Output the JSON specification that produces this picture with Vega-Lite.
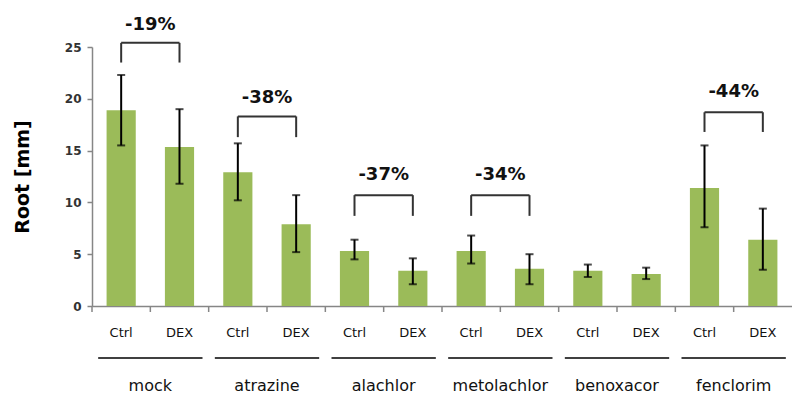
{
  "$schema": "https://vega.github.io/schema/vega-lite/v6.json",
  "width": 700,
  "height": 259,
  "autosize": {"type": "none"},
  "padding": {"left": 92, "top": 47, "right": 0, "bottom": 88},
  "background": "white",
  "config": {"view": {"stroke": null}, "font": "DejaVu Sans"},
  "datasets": {
    "bars": [
      {"group": "mock", "cond": "Ctrl", "id": "mock|Ctrl", "value": 18.9, "lo": 15.5, "hi": 22.3},
      {"group": "mock", "cond": "DEX", "id": "mock|DEX", "value": 15.35, "lo": 11.8, "hi": 19.0},
      {"group": "atrazine", "cond": "Ctrl", "id": "atrazine|Ctrl", "value": 12.9, "lo": 10.2, "hi": 15.7},
      {"group": "atrazine", "cond": "DEX", "id": "atrazine|DEX", "value": 7.9, "lo": 5.2, "hi": 10.7},
      {"group": "alachlor", "cond": "Ctrl", "id": "alachlor|Ctrl", "value": 5.3, "lo": 4.5, "hi": 6.4},
      {"group": "alachlor", "cond": "DEX", "id": "alachlor|DEX", "value": 3.4, "lo": 2.1, "hi": 4.6},
      {"group": "metolachlor", "cond": "Ctrl", "id": "metolachlor|Ctrl", "value": 5.3, "lo": 4.1, "hi": 6.8},
      {"group": "metolachlor", "cond": "DEX", "id": "metolachlor|DEX", "value": 3.6, "lo": 2.1, "hi": 5.0},
      {"group": "benoxacor", "cond": "Ctrl", "id": "benoxacor|Ctrl", "value": 3.4, "lo": 2.8, "hi": 4.0},
      {"group": "benoxacor", "cond": "DEX", "id": "benoxacor|DEX", "value": 3.1, "lo": 2.6, "hi": 3.7},
      {"group": "fenclorim", "cond": "Ctrl", "id": "fenclorim|Ctrl", "value": 11.4, "lo": 7.6, "hi": 15.5},
      {"group": "fenclorim", "cond": "DEX", "id": "fenclorim|DEX", "value": 6.4, "lo": 3.5, "hi": 9.4}
    ],
    "ann": [
      {"ctrl": "mock|Ctrl", "dex": "mock|DEX", "ybot": 23.5, "ytop": 25.4, "ylab": 27.1, "label": "-19%"},
      {"ctrl": "atrazine|Ctrl", "dex": "atrazine|DEX", "ybot": 16.3, "ytop": 18.3, "ylab": 20.1, "label": "-38%"},
      {"ctrl": "alachlor|Ctrl", "dex": "alachlor|DEX", "ybot": 8.7, "ytop": 10.7, "ylab": 12.6, "label": "-37%"},
      {"ctrl": "metolachlor|Ctrl", "dex": "metolachlor|DEX", "ybot": 8.7, "ytop": 10.7, "ylab": 12.6, "label": "-34%"},
      {"ctrl": "fenclorim|Ctrl", "dex": "fenclorim|DEX", "ybot": 16.8, "ytop": 18.7, "ylab": 20.7, "label": "-44%"}
    ],
    "groups": [
      {"group": "mock", "ctrl": "mock|Ctrl", "dex": "mock|DEX"},
      {"group": "atrazine", "ctrl": "atrazine|Ctrl", "dex": "atrazine|DEX"},
      {"group": "alachlor", "ctrl": "alachlor|Ctrl", "dex": "alachlor|DEX"},
      {"group": "metolachlor", "ctrl": "metolachlor|Ctrl", "dex": "metolachlor|DEX"},
      {"group": "benoxacor", "ctrl": "benoxacor|Ctrl", "dex": "benoxacor|DEX"},
      {"group": "fenclorim", "ctrl": "fenclorim|Ctrl", "dex": "fenclorim|DEX"}
    ]
  },
  "layer": [
    {
      "data": {"name": "bars"},
      "mark": {"type": "bar", "color": "#9BBB59"},
      "encoding": {
        "x": {
          "field": "id", "type": "nominal",
          "scale": {"domain": ["mock|Ctrl","mock|DEX","atrazine|Ctrl","atrazine|DEX","alachlor|Ctrl","alachlor|DEX","metolachlor|Ctrl","metolachlor|DEX","benoxacor|Ctrl","benoxacor|DEX","fenclorim|Ctrl","fenclorim|DEX"], "paddingInner": 0.5, "paddingOuter": 0.25},
          "axis": {
            "title": null, "labelAngle": 0, "labelExpr": "split(datum.value, '|')[1]",
            "ticks": false, "domainColor": "#868686", "domainWidth": 1.5,
            "labelFontSize": 13, "labelColor": "#111", "labelPadding": 20, "labelBaseline": "top"
          }
        },
        "y": {
          "field": "value", "type": "quantitative",
          "scale": {"domain": [0, 25], "nice": false},
          "axis": {
            "values": [0, 5, 10, 15, 20, 25], "grid": false, "title": "Root [mm]",
            "titleFontSize": 19, "titleFontWeight": "bold", "titleColor": "#000", "titlePadding": 32,
            "labelFontSize": 12, "labelFontWeight": "bold", "labelColor": "#333", "labelPadding": 6,
            "tickSize": 5, "tickWidth": 1.5, "tickColor": "#868686", "domainColor": "#868686", "domainWidth": 1.5
          }
        }
      }
    },
    {
      "data": {"name": "bars"},
      "mark": {"type": "rule", "color": "#868686", "strokeWidth": 1.5, "y2Offset": 6},
      "encoding": {
        "x": {"field": "id", "type": "nominal", "bandPosition": -0.5, "scale": {"domain": ["mock|Ctrl","mock|DEX","atrazine|Ctrl","atrazine|DEX","alachlor|Ctrl","alachlor|DEX","metolachlor|Ctrl","metolachlor|DEX","benoxacor|Ctrl","benoxacor|DEX","fenclorim|Ctrl","fenclorim|DEX"], "paddingInner": 0.5, "paddingOuter": 0.25}},
        "y": {"datum": 0, "type": "quantitative"},
        "y2": {"datum": 0}
      }
    },
    {
      "data": {"name": "bars"},
      "mark": {"type": "rule", "color": "#000", "strokeWidth": 2},
      "encoding": {
        "x": {"field": "id", "type": "nominal", "scale": {"domain": ["mock|Ctrl","mock|DEX","atrazine|Ctrl","atrazine|DEX","alachlor|Ctrl","alachlor|DEX","metolachlor|Ctrl","metolachlor|DEX","benoxacor|Ctrl","benoxacor|DEX","fenclorim|Ctrl","fenclorim|DEX"], "paddingInner": 0.5, "paddingOuter": 0.25}},
        "y": {"field": "lo", "type": "quantitative"},
        "y2": {"field": "hi"}
      }
    },
    {
      "data": {"name": "bars"},
      "mark": {"type": "tick", "color": "#000", "size": 8, "thickness": 2, "orient": "horizontal"},
      "encoding": {
        "x": {"field": "id", "type": "nominal", "scale": {"domain": ["mock|Ctrl","mock|DEX","atrazine|Ctrl","atrazine|DEX","alachlor|Ctrl","alachlor|DEX","metolachlor|Ctrl","metolachlor|DEX","benoxacor|Ctrl","benoxacor|DEX","fenclorim|Ctrl","fenclorim|DEX"], "paddingInner": 0.5, "paddingOuter": 0.25}},
        "y": {"field": "hi", "type": "quantitative"}
      }
    },
    {
      "data": {"name": "bars"},
      "mark": {"type": "tick", "color": "#000", "size": 8, "thickness": 2, "orient": "horizontal"},
      "encoding": {
        "x": {"field": "id", "type": "nominal", "scale": {"domain": ["mock|Ctrl","mock|DEX","atrazine|Ctrl","atrazine|DEX","alachlor|Ctrl","alachlor|DEX","metolachlor|Ctrl","metolachlor|DEX","benoxacor|Ctrl","benoxacor|DEX","fenclorim|Ctrl","fenclorim|DEX"], "paddingInner": 0.5, "paddingOuter": 0.25}},
        "y": {"field": "lo", "type": "quantitative"}
      }
    },
    {
      "data": {"name": "ann"},
      "mark": {"type": "rule", "color": "#333", "strokeWidth": 2},
      "encoding": {
        "x": {"field": "ctrl", "type": "nominal", "scale": {"domain": ["mock|Ctrl","mock|DEX","atrazine|Ctrl","atrazine|DEX","alachlor|Ctrl","alachlor|DEX","metolachlor|Ctrl","metolachlor|DEX","benoxacor|Ctrl","benoxacor|DEX","fenclorim|Ctrl","fenclorim|DEX"], "paddingInner": 0.5, "paddingOuter": 0.25}},
        "y": {"field": "ybot", "type": "quantitative"},
        "y2": {"field": "ytop"}
      }
    },
    {
      "data": {"name": "ann"},
      "mark": {"type": "rule", "color": "#333", "strokeWidth": 2},
      "encoding": {
        "x": {"field": "dex", "type": "nominal", "scale": {"domain": ["mock|Ctrl","mock|DEX","atrazine|Ctrl","atrazine|DEX","alachlor|Ctrl","alachlor|DEX","metolachlor|Ctrl","metolachlor|DEX","benoxacor|Ctrl","benoxacor|DEX","fenclorim|Ctrl","fenclorim|DEX"], "paddingInner": 0.5, "paddingOuter": 0.25}},
        "y": {"field": "ybot", "type": "quantitative"},
        "y2": {"field": "ytop"}
      }
    },
    {
      "data": {"name": "ann"},
      "mark": {"type": "rule", "color": "#333", "strokeWidth": 2},
      "encoding": {
        "x": {"field": "ctrl", "type": "nominal", "scale": {"domain": ["mock|Ctrl","mock|DEX","atrazine|Ctrl","atrazine|DEX","alachlor|Ctrl","alachlor|DEX","metolachlor|Ctrl","metolachlor|DEX","benoxacor|Ctrl","benoxacor|DEX","fenclorim|Ctrl","fenclorim|DEX"], "paddingInner": 0.5, "paddingOuter": 0.25}},
        "x2": {"field": "dex"},
        "y": {"field": "ytop", "type": "quantitative"}
      }
    },
    {
      "data": {"name": "ann"},
      "mark": {"type": "text", "color": "#111", "fontSize": 18, "fontWeight": "bold", "baseline": "middle", "align": "center"},
      "encoding": {
        "x": {"field": "ctrl", "type": "nominal", "bandPosition": 1.5, "scale": {"domain": ["mock|Ctrl","mock|DEX","atrazine|Ctrl","atrazine|DEX","alachlor|Ctrl","alachlor|DEX","metolachlor|Ctrl","metolachlor|DEX","benoxacor|Ctrl","benoxacor|DEX","fenclorim|Ctrl","fenclorim|DEX"], "paddingInner": 0.5, "paddingOuter": 0.25}},
        "y": {"field": "ylab", "type": "quantitative"},
        "text": {"field": "label"}
      }
    },
    {
      "data": {"name": "groups"},
      "mark": {"type": "rule", "color": "#000", "strokeWidth": 1.5, "xOffset": -23, "x2Offset": 23, "yOffset": 52},
      "encoding": {
        "x": {"field": "ctrl", "type": "nominal", "scale": {"domain": ["mock|Ctrl","mock|DEX","atrazine|Ctrl","atrazine|DEX","alachlor|Ctrl","alachlor|DEX","metolachlor|Ctrl","metolachlor|DEX","benoxacor|Ctrl","benoxacor|DEX","fenclorim|Ctrl","fenclorim|DEX"], "paddingInner": 0.5, "paddingOuter": 0.25}},
        "x2": {"field": "dex"},
        "y": {"datum": 0, "type": "quantitative"}
      }
    },
    {
      "data": {"name": "groups"},
      "mark": {"type": "text", "color": "#111", "fontSize": 16, "baseline": "alphabetic", "align": "center", "yOffset": 85},
      "encoding": {
        "x": {"field": "ctrl", "type": "nominal", "bandPosition": 1.5, "scale": {"domain": ["mock|Ctrl","mock|DEX","atrazine|Ctrl","atrazine|DEX","alachlor|Ctrl","alachlor|DEX","metolachlor|Ctrl","metolachlor|DEX","benoxacor|Ctrl","benoxacor|DEX","fenclorim|Ctrl","fenclorim|DEX"], "paddingInner": 0.5, "paddingOuter": 0.25}},
        "y": {"datum": 0, "type": "quantitative"},
        "text": {"field": "group"}
      }
    }
  ]
}
